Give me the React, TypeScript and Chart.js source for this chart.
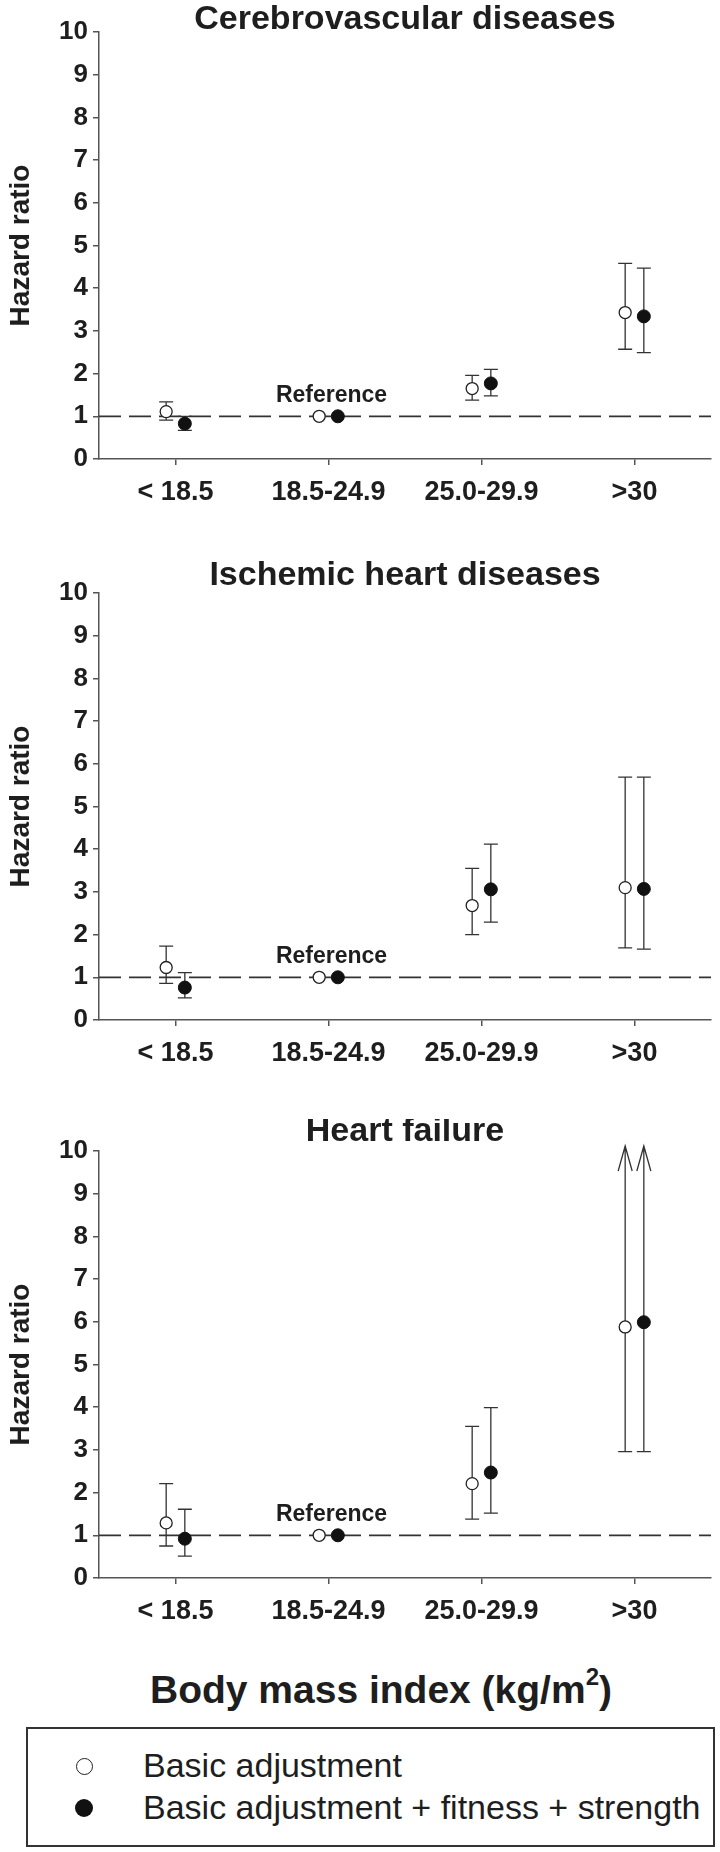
import React, { useEffect, useRef } from "react";
import { Chart, registerables } from "chart.js";

Chart.register(...registerables);

// ---------- data ----------
const categories = ["< 18.5", "18.5-24.9", "25.0-29.9", ">30"];
const yMin = 0;
const yMax = 10;
const yStep = 1;
const panelTitles = ["Cerebrovascular diseases", "Ischemic heart diseases", "Heart failure"];
const seriesNames = ["Basic adjustment", "Basic adjustment + fitness + strength"];
const referenceLabel = "Reference";
const referenceIndex = 1;
const referenceHR = 1;

// Cerebrovascular diseases
const cvBasicHR = [1.11, 1.0, 1.65, 3.43];
const cvBasicLow = [0.91, null, 1.38, 2.57];
const cvBasicHigh = [1.34, null, 1.96, 4.58];
const cvFullHR = [0.83, 1.0, 1.77, 3.34];
const cvFullLow = [0.67, null, 1.48, 2.49];
const cvFullHigh = [1.0, null, 2.1, 4.47];

// Ischemic heart diseases
const ihdBasicHR = [1.23, 1.0, 2.68, 3.1];
const ihdBasicLow = [0.86, null, 2.0, 1.69];
const ihdBasicHigh = [1.73, null, 3.55, 5.69];
const ihdFullHR = [0.76, 1.0, 3.06, 3.07];
const ihdFullLow = [0.52, null, 2.29, 1.66];
const ihdFullHigh = [1.11, null, 4.12, 5.69];

// Heart failure (upper limit of >30 beyond the axis)
const hfBasicHR = [1.29, 1.0, 2.21, 5.88];
const hfBasicLow = [0.75, null, 1.38, 2.96];
const hfBasicHigh = [2.21, null, 3.55, null];
const hfFullHR = [0.92, 1.0, 2.47, 5.99];
const hfFullLow = [0.51, null, 1.52, 2.96];
const hfFullHigh = [1.61, null, 3.99, null];
const hfUpperBeyondAxis = [false, false, false, true];
const noneBeyond = [false, false, false, false];

type Series = {
  hr: number[];
  low: (number | null)[];
  high: (number | null)[];
  beyond: boolean[];
};
type PanelData = { title: string; basic: Series; full: Series };

const panelsData: PanelData[] = [
  {
    title: panelTitles[0],
    basic: { hr: cvBasicHR, low: cvBasicLow, high: cvBasicHigh, beyond: noneBeyond },
    full: { hr: cvFullHR, low: cvFullLow, high: cvFullHigh, beyond: noneBeyond },
  },
  {
    title: panelTitles[1],
    basic: { hr: ihdBasicHR, low: ihdBasicLow, high: ihdBasicHigh, beyond: noneBeyond },
    full: { hr: ihdFullHR, low: ihdFullLow, high: ihdFullHigh, beyond: noneBeyond },
  },
  {
    title: panelTitles[2],
    basic: { hr: hfBasicHR, low: hfBasicLow, high: hfBasicHigh, beyond: hfUpperBeyondAxis },
    full: { hr: hfFullHR, low: hfFullLow, high: hfFullHigh, beyond: hfUpperBeyondAxis },
  },
];

// ---------- layout / style ----------
const FONT = '"Liberation Sans", Arial, Helvetica, sans-serif';
const TEXT = "#1e1e1e";
const AXIS = "#555555";
const BAR = "#333333";
const CANVAS_W = 720;
const CANVAS_H = 530;
const PAD_TOP = 32;
const PAD_RIGHT = 9;
const Y_AXIS_W = 99;
const X_AXIS_H = 71;
const SERIES_SHIFT = [-0.061, 0.061];
const panelLayout = [
  { top: 0, titleGap: 3 },
  { top: 561, titleGap: 8 },
  { top: 1119, titleGap: 10 },
];

const decorPlugin = {
  id: "decor",
  beforeDatasetsDraw(chart: any, _args: any, opts: any) {
    const { ctx, chartArea } = chart;
    const ys = chart.scales.y;
    // dashed reference line
    const yRef = ys.getPixelForValue(referenceHR);
    ctx.save();
    ctx.strokeStyle = BAR;
    ctx.lineWidth = 1.8;
    ctx.setLineDash([22, 8]);
    ctx.beginPath();
    ctx.moveTo(chartArea.left, yRef);
    ctx.lineTo(chartArea.right, yRef);
    ctx.stroke();
    ctx.restore();

    // error bars
    const series: Series[] = opts.series;
    ctx.save();
    ctx.strokeStyle = BAR;
    ctx.lineWidth = 1.3;
    series.forEach((s, di) => {
      const meta = chart.getDatasetMeta(di);
      meta.data.forEach((pt: any, i: number) => {
        const lo = s.low[i];
        const hi = s.high[i];
        const beyond = s.beyond[i];
        if (lo == null && hi == null && !beyond) return;
        const x = pt.x;
        const yLo = ys.getPixelForValue(lo as number);
        const yHi = beyond ? chartArea.top - 5 : ys.getPixelForValue(hi as number);
        ctx.beginPath();
        ctx.moveTo(x, yLo);
        ctx.lineTo(x, yHi);
        ctx.moveTo(x - 7, yLo);
        ctx.lineTo(x + 7, yLo);
        if (beyond) {
          ctx.moveTo(x - 7, yHi + 25);
          ctx.lineTo(x, yHi);
          ctx.lineTo(x + 7, yHi + 25);
        } else {
          ctx.moveTo(x - 7, yHi);
          ctx.lineTo(x + 7, yHi);
        }
        ctx.stroke();
      });
    });
    ctx.restore();
  },
  afterDatasetsDraw(chart: any, _args: any, opts: any) {
    const { ctx, chartArea } = chart;
    const xs = chart.scales.x;
    const ys = chart.scales.y;
    ctx.save();
    ctx.fillStyle = TEXT;
    ctx.textAlign = "center";
    ctx.textBaseline = "alphabetic";
    ctx.font = `bold 23px ${FONT}`;
    ctx.fillText(referenceLabel, xs.getPixelForValue(referenceIndex) + 3, ys.getPixelForValue(referenceHR) - 14);
    ctx.font = `bold 34px ${FONT}`;
    ctx.fillText(opts.title, (chartArea.left + chartArea.right) / 2, chartArea.top - opts.titleGap);
    ctx.restore();
  },
};

function Panel({ data, layout }: { data: PanelData; layout: { top: number; titleGap: number } }) {
  const ref = useRef<HTMLCanvasElement | null>(null);
  useEffect(() => {
    if (!ref.current) return;
    const mk = (s: Series, k: number) =>
      s.hr.map((v, i) => ({ x: i + SERIES_SHIFT[k], y: v }));
    const chart = new Chart(ref.current, {
      type: "scatter",
      data: {
        datasets: [
          {
            label: seriesNames[0],
            data: mk(data.basic, 0),
            pointStyle: "circle",
            pointRadius: 6,
            pointBackgroundColor: "#ffffff",
            pointBorderColor: "#222222",
            pointBorderWidth: 1.3,
          },
          {
            label: seriesNames[1],
            data: mk(data.full, 1),
            pointStyle: "circle",
            pointRadius: 6.5,
            pointBackgroundColor: "#111111",
            pointBorderColor: "#111111",
            pointBorderWidth: 1,
          },
        ],
      },
      options: {
        responsive: false,
        animation: false,
        events: [],
        layout: { padding: { top: PAD_TOP, right: PAD_RIGHT, left: 0, bottom: 0 } },
        plugins: {
          legend: { display: false },
          tooltip: { enabled: false },
          title: { display: false },
          decor: { series: [data.basic, data.full], title: data.title, titleGap: layout.titleGap },
        } as any,
        scales: {
          x: {
            type: "linear",
            min: -0.5,
            max: 3.5,
            afterBuildTicks: (s: any) => {
              s.ticks = categories.map((_, i) => ({ value: i }));
            },
            afterFit: (s: any) => {
              s.height = X_AXIS_H;
            },
            ticks: {
              autoSkip: false,
              maxRotation: 0,
              padding: 11,
              color: TEXT,
              font: { family: FONT, size: 27, weight: "bold" },
              callback: (v: any) => categories[v] ?? "",
            },
            grid: { drawOnChartArea: false, drawTicks: true, tickLength: 6, color: AXIS, lineWidth: 1.5 },
            border: { display: true, color: AXIS, width: 1.5 },
          },
          y: {
            type: "linear",
            min: yMin,
            max: yMax,
            afterFit: (s: any) => {
              s.width = Y_AXIS_W;
            },
            ticks: {
              stepSize: yStep,
              padding: 5,
              color: TEXT,
              font: { family: FONT, size: 26, weight: "bold" },
            },
            title: {
              display: true,
              text: "Hazard ratio",
              color: TEXT,
              padding: { top: 4, bottom: 0 },
              font: { family: FONT, size: 28, weight: "bold" },
            },
            grid: { drawOnChartArea: false, drawTicks: true, tickLength: 6, color: AXIS, lineWidth: 1.5 },
            border: { display: true, color: AXIS, width: 1.5 },
          },
        },
      },
      plugins: [decorPlugin],
    });
    return () => chart.destroy();
  }, [data, layout]);
  return (
    <canvas
      ref={ref}
      width={CANVAS_W}
      height={CANVAS_H}
      style={{ position: "absolute", left: 0, top: layout.top, width: CANVAS_W, height: CANVAS_H }}
    />
  );
}

export default function App() {
  return (
    <div
      style={{
        position: "absolute",
        left: 0,
        top: 0,
        width: 720,
        height: 1852,
        background: "#ffffff",
        fontFamily: FONT,
        color: TEXT,
        overflow: "hidden",
      }}
    >
      {panelsData.map((p, i) => (
        <Panel key={i} data={p} layout={panelLayout[i]} />
      ))}
      <div
        style={{
          position: "absolute",
          left: 381,
          top: 1670,
          transform: "translateX(-50%)",
          whiteSpace: "nowrap",
          fontSize: 39,
          lineHeight: "39px",
          fontWeight: "bold",
        }}
      >
        Body mass index (kg/m
        <span style={{ fontSize: 24, position: "relative", top: -18 }}>2</span>)
      </div>
      <div
        style={{
          position: "absolute",
          left: 26,
          top: 1727,
          width: 689,
          height: 120,
          boxSizing: "border-box",
          border: "2px solid #333333",
        }}
      />
      <div
        style={{
          position: "absolute",
          left: 76,
          top: 1758,
          width: 17,
          height: 17,
          boxSizing: "border-box",
          borderRadius: "50%",
          border: "1.5px solid #222222",
          background: "#ffffff",
        }}
      />
      <div
        style={{
          position: "absolute",
          left: 75,
          top: 1799,
          width: 18,
          height: 18,
          borderRadius: "50%",
          background: "#111111",
        }}
      />
      <div style={{ position: "absolute", left: 143, top: 1748, fontSize: 34, lineHeight: "34px", whiteSpace: "nowrap" }}>
        {seriesNames[0]}
      </div>
      <div style={{ position: "absolute", left: 143, top: 1790, fontSize: 34, lineHeight: "34px", whiteSpace: "nowrap" }}>
        {seriesNames[1]}
      </div>
    </div>
  );
}
